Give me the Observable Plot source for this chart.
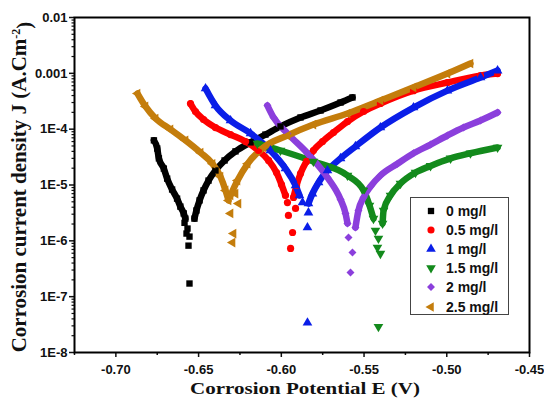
<!DOCTYPE html>
<html>
<head>
<meta charset="utf-8">
<script src="https://cdn.jsdelivr.net/npm/d3@7"></script>
<script src="https://cdn.jsdelivr.net/npm/@observablehq/plot@0.6"></script>
<style>
  html, body { margin: 0; padding: 0; background: #fff; }
  #wrap { position: relative; width: 544px; height: 399px; overflow: hidden; }
  #legend { position: absolute; left: 410px; top: 197px; width: 99px; height: 118px;
    border: 1.5px solid #444; box-sizing: border-box; background: #fff;
    font-family: "Liberation Sans", Arial, sans-serif; font-weight: bold; font-size: 14px; color: #111; }
  .row { position: absolute; left: 0; height: 19px; display: flex; align-items: center; }
  .row svg { margin-left: 14px; margin-right: 9px; }
</style>
</head>
<body>
<div id="wrap"><div id="legend"></div></div>
<script>
// Series names and colours
const seriesNames = ["0 mg/l", "0.5 mg/l", "1 mg/l", "1.5 mg/l", "2 mg/l", "2.5 mg/l"];
const seriesColors = ["#000000", "#ff0000", "#0a1ee8", "#138a1c", "#8b3fdc", "#c47d0c"];

// [E (V), J (A/cm2)] — cathodic branch, scattered points near Ecorr, anodic branch
const cath0 = [[-0.677,6.3e-5],[-0.675,4.5e-5],[-0.674,3.0e-5],[-0.671,1.97e-5],[-0.669,1.3e-5],[-0.666,8.3e-6],[-0.663,5.7e-6],[-0.661,4.1e-6],[-0.659,3.1e-6],[-0.658,2.5e-6]];
const min0 = [[-0.6585,2.1e-6],[-0.6567,1.66e-6],[-0.6573,1.35e-6],[-0.6555,1.19e-6],[-0.6561,8.2e-7],[-0.6555,1.72e-7]];
const anod0 = [[-0.6525,2.5e-6],[-0.6513,3.5e-6],[-0.6494,5.3e-6],[-0.647,8.0e-6],[-0.644,1.2e-5],[-0.6398,1.82e-5],[-0.6343,2.75e-5],[-0.6277,4.0e-5],[-0.6186,5.8e-5],[-0.6096,8.0e-5],[-0.6005,1.12e-4],[-0.5884,1.62e-4],[-0.5763,2.16e-4],[-0.5642,3.0e-4],[-0.557,3.7e-4]];

const cath1 = [[-0.6549,2.88e-4],[-0.6519,2.07e-4],[-0.6470,1.49e-4],[-0.6398,1.07e-4],[-0.6307,8.0e-5],[-0.6216,6.0e-5],[-0.6138,4.15e-5],[-0.6077,2.75e-5],[-0.6029,1.67e-5],[-0.5999,1.02e-5],[-0.5975,6.5e-6]];
const min1 = [[-0.5963,4.85e-6],[-0.5914,3.8e-6],[-0.5957,2.85e-6],[-0.5932,1.41e-6],[-0.5944,7.3e-7]];
const anod1 = [[-0.5926,6.0e-6],[-0.5908,9.8e-6],[-0.5884,1.6e-5],[-0.5848,2.64e-5],[-0.5806,4.15e-5],[-0.5751,6.0e-5],[-0.5685,8.7e-5],[-0.56,1.37e-4],[-0.5503,2.07e-4],[-0.5401,2.88e-4],[-0.5201,4.9e-4],[-0.4996,6.85e-4],[-0.4796,9.1e-4],[-0.4693,9.9e-4]];

const cath2 = [[-0.6458,5.35e-4],[-0.6398,2.65e-4],[-0.6307,1.43e-4],[-0.6186,8.4e-5],[-0.6066,4.15e-5],[-0.5975,1.97e-5],[-0.5914,9.8e-6],[-0.5890,6.5e-6]];
const min2 = [[-0.5872,4.85e-6],[-0.5836,3.2e-6],[-0.5842,1.73e-6],[-0.5842,3.4e-8]];
const anod2 = [[-0.5836,4.65e-6],[-0.5812,7.0e-6],[-0.5775,1.11e-5],[-0.5721,1.82e-5],[-0.5642,3.0e-5],[-0.5552,4.9e-5],[-0.5401,1.07e-4],[-0.5201,2.44e-4],[-0.4996,4.9e-4],[-0.4796,8.4e-4],[-0.4693,1.12e-3]];

const cath3 = [[-0.6144,5.5e-5],[-0.6005,4.15e-5],[-0.5806,2.64e-5],[-0.56,1.48e-5],[-0.5503,8.0e-6],[-0.5467,4.3e-6],[-0.5443,2.5e-6]];
const min3 = [[-0.5431,1.53e-6],[-0.5413,1.1e-6],[-0.5419,7.6e-7],[-0.5401,5.9e-7],[-0.5413,2.9e-8]];
const anod3 = [[-0.5388,2.05e-6],[-0.5382,3.5e-6],[-0.5340,6.5e-6],[-0.5280,1.06e-5],[-0.5189,1.67e-5],[-0.5098,2.2e-5],[-0.4977,3.0e-5],[-0.4857,3.7e-5],[-0.4693,4.7e-5]];

const cath4 = [[-0.6084,2.65e-4],[-0.6047,1.62e-4],[-0.5963,8.4e-5],[-0.5842,3.7e-5],[-0.5721,1.36e-5],[-0.5642,5.5e-6],[-0.5612,3.1e-6],[-0.56,2.05e-6]];
const min4 = [[-0.5594,1.15e-6],[-0.557,6.2e-7],[-0.5582,2.7e-7]];
const anod4 = [[-0.5552,1.73e-6],[-0.5534,3.5e-6],[-0.5503,6.0e-6],[-0.5461,9.4e-6],[-0.5401,1.48e-5],[-0.5298,2.4e-5],[-0.5201,3.7e-5],[-0.5098,5.3e-5],[-0.4996,7.7e-5],[-0.4899,1.07e-4],[-0.4796,1.43e-4],[-0.4693,1.99e-4]];

const cath5 = [[-0.6869,4.35e-4],[-0.6821,2.55e-4],[-0.6760,1.55e-4],[-0.6670,9.9e-5],[-0.6579,6.3e-5],[-0.6488,3.8e-5],[-0.6416,2.4e-5],[-0.6368,1.42e-5],[-0.6337,8.0e-6],[-0.6319,5.3e-6]];
const min5 = [[-0.6277,7.0e-6],[-0.6259,4.65e-6],[-0.6307,3.1e-6],[-0.6289,1.35e-6],[-0.6295,9.3e-7]];
const anod5 = [[-0.6307,6.5e-6],[-0.6265,1.2e-5],[-0.6204,2.4e-5],[-0.6108,4.7e-5],[-0.5963,7.7e-5],[-0.5806,1.21e-4],[-0.56,1.91e-4],[-0.5401,3.26e-4],[-0.5201,5.6e-4],[-0.4996,9.9e-4],[-0.4857,1.5e-3]];

// Axis ticks
const xTicks = [-0.70, -0.65, -0.60, -0.55, -0.50, -0.45];
const xMinorTicks = [-0.725, -0.675, -0.625, -0.575, -0.525, -0.475];
const yTicks = [1e-8, 1e-7, 1e-6, 1e-5, 1e-4, 1e-3, 1e-2];
const yTickLabels = ["1E-8", "1E-7", "1E-6", "1E-5", "1E-4", "0.001", "0.01"];

// Build table
const branches = [
  [cath0, min0, anod0], [cath1, min1, anod1], [cath2, min2, anod2],
  [cath3, min3, anod3], [cath4, min4, anod4], [cath5, min5, anod5]
];
const rows = [];
branches.forEach((b, i) => {
  ["cath", "min", "anod"].forEach((kind, k) => {
    b[k].forEach(([E, J]) => rows.push({series: seriesNames[i], kind, key: seriesNames[i] + kind, E, J}));
  });
});

// Custom marker shapes
const s3 = Math.sqrt(3);
const triDown = {draw(ctx, size) {
  const y = -Math.sqrt(size / (s3 * 3));
  ctx.moveTo(0, -y * 2); ctx.lineTo(-s3 * y, y); ctx.lineTo(s3 * y, y); ctx.closePath();
}};
const triLeft = {draw(ctx, size) {
  const y = -Math.sqrt(size / (s3 * 3));
  ctx.moveTo(y * 2, 0); ctx.lineTo(-y, -s3 * y); ctx.lineTo(-y, s3 * y); ctx.closePath();
}};
const seriesSymbols = [d3.symbolSquare, d3.symbolCircle, d3.symbolTriangle, triDown, d3.symbolDiamond2, triLeft];

const minorY = [];
for (let e = -8; e < -2; e++) for (let m = 2; m <= 9; m++) minorY.push(m * Math.pow(10, e));

const plot = Plot.plot({
  width: 544, height: 399,
  marginLeft: 74, marginRight: 15, marginTop: 17, marginBottom: 47,
  style: {fontFamily: "'Liberation Sans', Arial, sans-serif", fontSize: "13px", fontWeight: "bold", color: "#111", background: "#fff"},
  x: {domain: [-0.725, -0.45]},
  y: {type: "log", domain: [1e-8, 1e-2]},
  color: {domain: seriesNames, range: seriesColors},
  symbol: {domain: seriesNames, range: seriesSymbols},
  marks: [
    Plot.line(rows.filter(d => d.kind !== "min"), {x: "E", y: "J", z: "key", stroke: "series", strokeWidth: 6.5, curve: "monotone-x", strokeLinecap: "round"}),
    Plot.dot(rows, {x: "E", y: "J", fill: "series", symbol: "series", r: 3.6, stroke: "none"}),
    Plot.axisX({ticks: xMinorTicks, tickSize: 3, strokeWidth: 1.5, tickFormat: () => "", label: null}),
    Plot.axisX({ticks: xTicks, tickSize: 5, tickPadding: 7, strokeWidth: 1.5, tickFormat: d => d.toFixed(2), label: null}),
    Plot.axisY({ticks: minorY, tickSize: 2.5, strokeWidth: 1.2, tickFormat: () => "", label: null}),
    Plot.axisY({ticks: yTicks, tickSize: 5, tickPadding: 2, strokeWidth: 1.5, tickFormat: d => yTickLabels[yTicks.indexOf(d)], label: null}),
    Plot.frame({stroke: "#000", strokeWidth: 2})
  ]
});

const svg = d3.select(plot);
svg.append("text")
  .attr("transform", "translate(305,394) scale(1,0.8)")
  .attr("text-anchor", "middle")
  .style("font-family", "'Liberation Serif', 'Times New Roman', serif")
  .style("font-weight", "bold").style("font-size", "21px").attr("fill", "#111")
  .text("Corrosion Potential E (V)");

const yt = svg.append("text")
  .attr("transform", "translate(26,187) rotate(-90)")
  .attr("text-anchor", "middle")
  .style("font-family", "'Liberation Serif', 'Times New Roman', serif")
  .style("font-weight", "bold").style("font-size", "21px").attr("fill", "#111");
yt.append("tspan").text("Corrosion current density J (A.Cm");
yt.append("tspan").attr("dy", "-0.5em").style("font-size", "12px").text("-2");
yt.append("tspan").attr("dy", "0.5em").text(")");

document.getElementById("wrap").prepend(plot);
plot.style.position = "absolute"; plot.style.left = "0"; plot.style.top = "0";

// Legend
const legend = document.getElementById("legend");
seriesNames.forEach((name, i) => {
  const row = document.createElement("div");
  row.className = "row";
  row.style.top = (3 + i * 19.2) + "px";
  const s = d3.create("svg").attr("width", 12).attr("height", 12);
  s.append("path").attr("transform", "translate(6,6)")
    .attr("d", d3.symbol(seriesSymbols[i], 40)())
    .attr("fill", seriesColors[i]);
  row.appendChild(s.node());
  const t = document.createElement("span");
  t.textContent = name;
  row.appendChild(t);
  legend.appendChild(row);
});
</script>
</body>
</html>
